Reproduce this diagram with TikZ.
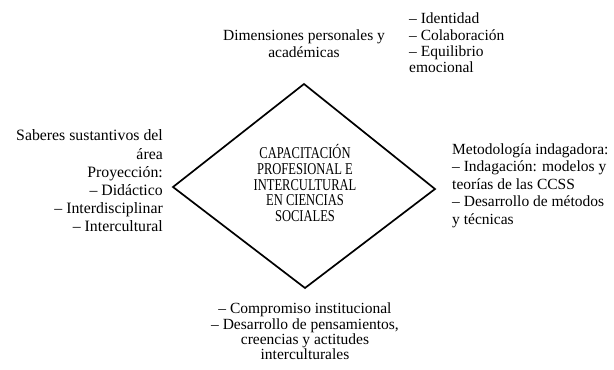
\documentclass[tikz,border=0pt]{standalone}
\usepackage{fontspec}
\setmainfont{Liberation Serif}
\newfontfamily\condfont[FakeStretch=0.76]{Liberation Serif}
\begin{document}
\begin{tikzpicture}[x=1pt,y=-1pt,
  txt/.style={inner sep=0pt},
  ctxt/.style={inner sep=0pt,align=center,font=\condfont\fontsize{16.5}{15.6}\selectfont},
  edge/.style={line width=1.7pt,line join=miter}]
\useasboundingbox[fill=white] (0,0) rectangle (614,370);
\coordinate (T) at (304,84);
\coordinate (L) at (173,187);
\coordinate (R) at (435,189);
\coordinate (B) at (305,288);
\draw[edge] (T) -- (R) -- (B) -- (L) -- cycle;
\node[ctxt] (core) at (305,183) {CAPACITACIÓN\\PROFESIONAL E\\INTERCULTURAL\\EN CIENCIAS\\SOCIALES};
\node[txt,align=center,font=\fontsize{15.5}{17}\selectfont] (dim) at (304,44) {Dimensiones personales y\\académicas};
\node[txt,align=left,anchor=west,font=\fontsize{15.5}{16.4}\selectfont] (ide) at (409,43) {– Identidad\\– Colaboración\\– Equilibrio\\emocional};
\node[txt,align=right,anchor=east,font=\fontsize{15.8}{18.2}\selectfont] (sab) at (163,181) {Saberes sustantivos del\\área\\Proyección:\\– Didáctico\\– Interdisciplinar\\– Intercultural};
\node[txt,align=left,anchor=west,font=\fontsize{15.5}{17.5}\selectfont] (met) at (452,185.5) {Metodología indagadora:\\– Indagación: modelos y\\teorías de las CCSS\\– Desarrollo de métodos\\y técnicas};
\node[txt,align=center,font=\fontsize{15.5}{15.4}\selectfont] (com) at (305,331.5) {– Compromiso institucional\\– Desarrollo de pensamientos,\\creencias y actitudes\\interculturales};
\end{tikzpicture}
\end{document}
